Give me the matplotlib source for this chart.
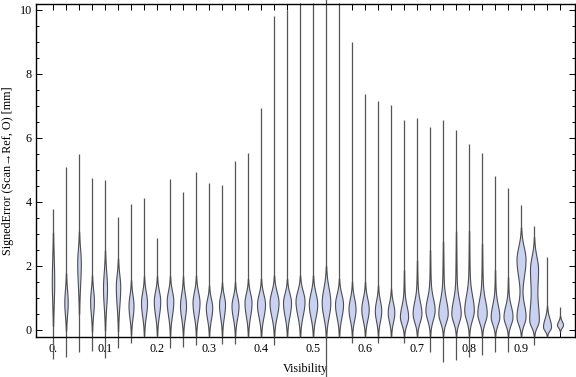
import numpy as np
import matplotlib
matplotlib.use('Agg')
import matplotlib.pyplot as plt
from matplotlib.ticker import MultipleLocator

plt.rcParams['font.family'] = ['Liberation Serif', 'DejaVu Serif']

# visibility bins (one violin each)
bin_centers = [0.0, 0.025, 0.05, 0.075, 0.1, 0.125, 0.15, 0.175, 0.2, 0.225,
               0.25, 0.275, 0.3, 0.325, 0.35, 0.375, 0.4, 0.425, 0.45, 0.475,
               0.5, 0.525, 0.55, 0.575, 0.6, 0.625, 0.65, 0.675, 0.7, 0.725,
               0.75, 0.775, 0.8, 0.825, 0.85, 0.875, 0.9, 0.925, 0.95, 0.975]

# range of the signed error in each bin [mm]
err_min = [-0.92, -0.85, -0.68, -0.65, -0.89, -0.57, -0.42, -0.23, -0.2, -0.55,
           -0.52, -0.48, -0.2, -0.44, -0.44, -0.2, -0.2, -0.47, -0.2, -0.2,
           -0.2, -1.47, -0.2, -0.4, -0.2, -0.4, -0.2, -0.4, -0.2, -0.7,
           -0.99, -0.94, -0.83, -0.78, -0.68, -0.68, -0.2, -0.47, -0.2, -0.05]
err_max = [3.77, 5.09, 5.5, 4.75, 4.69, 3.52, 3.94, 4.13, 2.86, 4.72,
           4.32, 4.94, 4.6, 4.53, 5.28, 5.53, 6.94, 9.81, 10.0, 10.2,
           10.2, 10.4, 10.2, 9.0, 7.37, 7.16, 7.02, 6.56, 6.63, 6.35,
           6.56, 6.25, 5.81, 5.52, 4.8, 4.43, 3.89, 3.26, 2.27, 0.73]

# density shape: mode, where the bulk fades out below / above, peak density
mode = [1.5, 0.85, 2.1, 0.9, 1.3, 1.35, 0.75, 0.85, 0.9, 0.9,
        0.75, 0.85, 0.7, 0.8, 0.75, 0.85, 0.8, 0.85, 0.85, 0.9,
        0.8, 0.85, 0.8, 0.65, 0.65, 0.6, 0.55, 0.42, 0.52, 0.62,
        0.52, 0.52, 0.62, 0.52, 0.42, 0.42, 0.42, 0.3, 0.1, 0.16]
body_lo = [-0.2, -0.15, 0.3, -0.15, -0.15, -0.15, -0.2, -0.2, -0.2, -0.2,
           -0.2, -0.2, -0.2, -0.2, -0.2, -0.2, -0.2, -0.2, -0.2, -0.2,
           -0.2, -0.25, -0.2, -0.2, -0.2, -0.2, -0.2, -0.2, -0.2, -0.2,
           -0.2, -0.2, -0.2, -0.2, -0.2, -0.2, -0.2, -0.2, -0.2, -0.05]
body_hi = [3.4, 1.9, 3.2, 1.8, 2.6, 2.3, 1.6, 1.7, 1.7, 1.7,
           1.7, 1.7, 1.4, 1.5, 1.5, 1.6, 1.6, 1.7, 1.6, 1.7,
           1.7, 2.0, 1.6, 1.5, 1.5, 1.4, 1.3, 1.2, 1.4, 1.5,
           1.5, 1.5, 1.7, 1.5, 1.3, 1.2, 1.4, 1.6, 0.75, 0.45]
density = [0.24, 0.34, 0.36, 0.38, 0.4, 0.44, 0.5, 0.6, 0.64, 0.66,
           0.6, 0.7, 0.64, 0.6, 0.7, 0.7, 0.8, 0.9, 0.8, 0.9,
           0.84, 0.86, 0.8, 0.7, 0.74, 0.64, 0.66, 0.66, 0.7, 0.74,
           0.74, 0.76, 0.78, 0.76, 0.7, 0.74, 0.9, 0.9, 0.8, 0.6]

# thin upper shoulder of the skewed bins: index -> (top, density)
shoulder = {27: (2.4, 0.16), 28: (2.7, 0.18), 29: (3.1, 0.18), 30: (3.4, 0.2),
            31: (3.9, 0.18), 32: (3.9, 0.18), 33: (3.4, 0.18), 34: (2.4, 0.16),
            35: (2.1, 0.16)}
# second mode of the bimodal bins: index -> (mode, lo, hi, density)
second_mode = {36: (2.2, 0.8, 3.2, 0.9), 37: (1.9, 0.2, 2.9, 0.8)}

fig = plt.figure(figsize=(5.76, 3.77), dpi=100)
ax = fig.add_axes([36 / 576, 40 / 377, 539 / 576, 333 / 377])

max_half_width = 5.0 / 520  # violin half width at density 1 (data units)
fill_col = '#cad2f3'
edge_col = '#4d4d4d'


def bump(y, m, lo, hi, d):
    s_lo = max(m - lo, 0.05) / 2.5
    s_hi = max(hi - m, 0.05) / 2.5
    s = np.where(y < m, s_lo, s_hi)
    return d * np.exp(-0.5 * ((y - m) / s) ** 2)


for i, x in enumerate(bin_centers):
    # whisker line over the full range
    ax.plot([x, x], [err_min[i], err_max[i]], color='#555555', lw=0.9,
            zorder=2, clip_on=False, solid_capstyle='butt')
    lo = min(body_lo[i], mode[i] - 0.3)
    hi = body_hi[i]
    if i in second_mode:
        hi = max(hi, second_mode[i][2])
    if i in shoulder:
        hi = max(hi, shoulder[i][0])
    yy = np.linspace(lo, hi, 300)
    w = bump(yy, mode[i], body_lo[i], body_hi[i], density[i])
    if i in second_mode:
        w = w + bump(yy, *second_mode[i])
    if i in shoulder:
        top, d = shoulder[i]
        w = w + bump(yy, mode[i], mode[i] - 0.6, top, d)
    keep = w > 0.03
    yy, w = yy[keep], w[keep] * max_half_width
    ax.fill_betweenx(yy, x - w, x + w, facecolor=fill_col, edgecolor=edge_col,
                     lw=0.8, zorder=3, clip_on=False)

ax.set_xlim(-0.0327, 1.0038)
ax.set_ylim(-0.22, 10.18)

xlabels = []
for i, x in enumerate(bin_centers):
    if i % 4 == 0:
        xlabels.append('0.' if x == 0 else f'{x:.1f}')
    else:
        xlabels.append('')
ax.set_xticks(bin_centers)
ax.set_xticklabels(xlabels)
ax.yaxis.set_major_locator(MultipleLocator(2))
ax.yaxis.set_minor_locator(MultipleLocator(0.5))

ax.tick_params(axis='both', which='both', direction='in', top=True, right=True,
               labelsize=8.7, colors='black', width=0.7)
ax.tick_params(axis='x', which='major', length=4, pad=4)
ax.tick_params(axis='y', which='major', length=4.5, pad=3)
ax.tick_params(axis='y', which='minor', length=2.5)
for sp in ax.spines.values():
    sp.set_linewidth(1.0)

ax.set_xlabel('Visibility', fontsize=8.7, labelpad=6)
ax.set_ylabel('SignedError (Scan\u2192Ref, O) [mm]', fontsize=8.7, labelpad=4)

fig.savefig('out.png', dpi=100)
